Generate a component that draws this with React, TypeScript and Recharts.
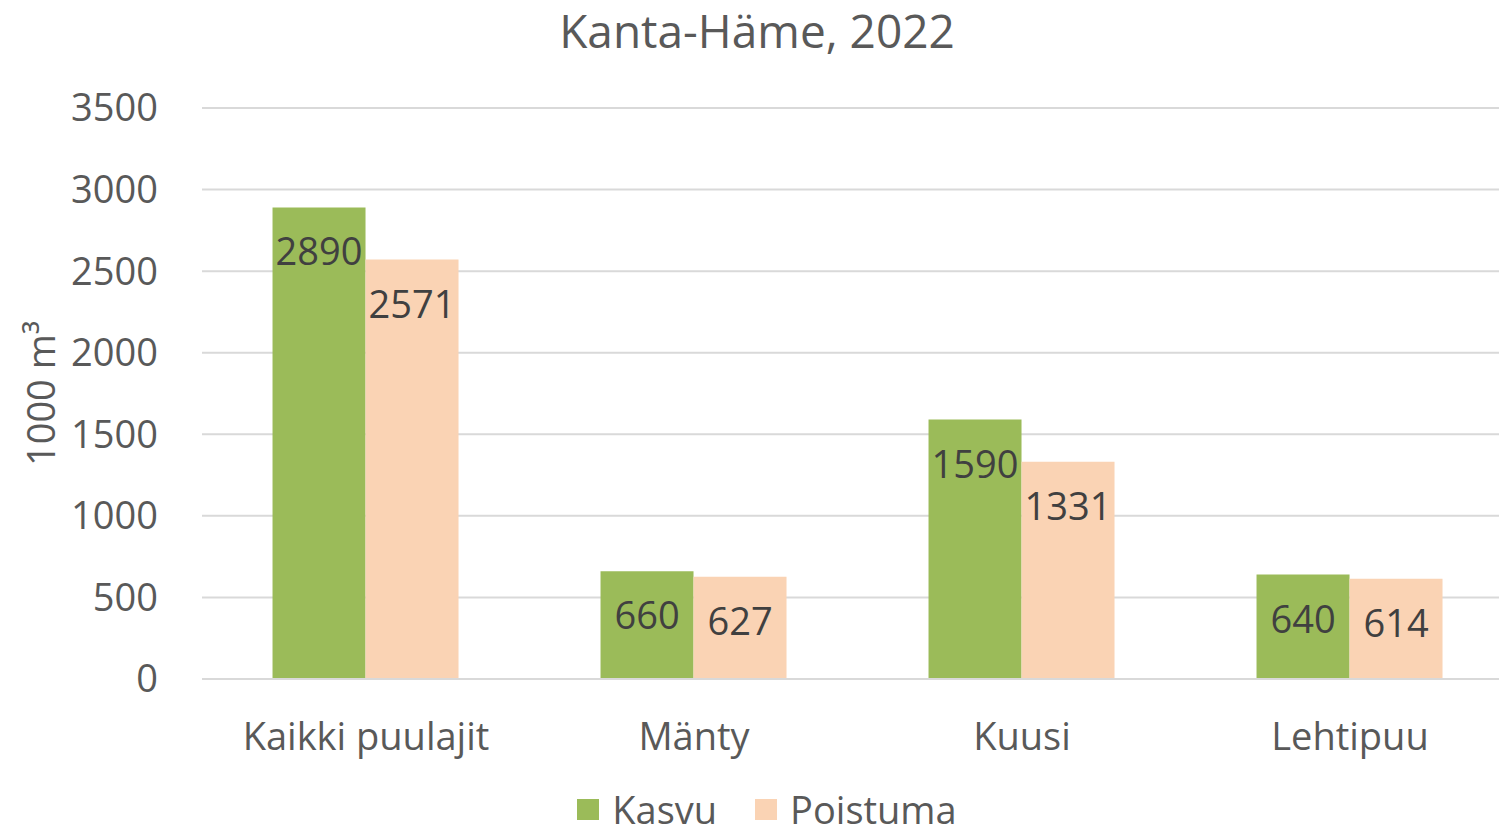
import React from 'react';
import {
  BarChart,
  Bar,
  XAxis,
  YAxis,
  CartesianGrid,
  Legend,
  LabelList,
  Label,
} from 'recharts';

const CATEGORIES = ['Kaikki puulajit', 'Mänty', 'Kuusi', 'Lehtipuu'];
const KASVU = [2890, 660, 1590, 640];
const POISTUMA = [2571, 627, 1331, 614];
const Y_TICKS = [0, 500, 1000, 1500, 2000, 2500, 3000, 3500];

const GREEN = '#9BBB59';
const PEACH = '#FAD3B4';
const TEXT = '#595959';
const FONT = "'Open Sans', sans-serif";

const data = CATEGORIES.map((name, i) => ({
  name,
  Kasvu: KASVU[i],
  Poistuma: POISTUMA[i],
}));

const YLabel = (props: any) => {
  const vb = props.viewBox || {};
  const cx = 40;
  const cy = (vb.y ?? 0) + (vb.height ?? 0) / 2;
  return (
    <text
      x={cx}
      y={cy}
      transform={`rotate(-90, ${cx}, ${cy})`}
      textAnchor="middle"
      dominantBaseline="central"
      fill={TEXT}
      fontSize={38}
      fontFamily={FONT}
    >
      1000 m³
    </text>
  );
};

// legend drawn by hand so the squares sit where the reference has them
const LegendBox = (props: any) => {
  const items = props.payload || [];
  return (
    <div style={{ display: 'flex', justifyContent: 'center', alignItems: 'center', height: 44 }}>
      {items.map((it: any, i: number) => (
        <div
          key={it.value}
          style={{ display: 'flex', alignItems: 'center', marginLeft: i === 0 ? 0 : 38 }}
        >
          <div style={{ width: 22, height: 21, background: it.color, marginRight: 13 }} />
          <span style={{ color: TEXT, fontSize: 38, lineHeight: '44px' }}>{it.value}</span>
        </div>
      ))}
    </div>
  );
};

export default function App() {
  return (
    <div
      style={{
        position: 'absolute',
        left: 0,
        top: 0,
        width: 1499,
        height: 835,
        overflow: 'hidden',
        background: '#fff',
        fontFamily: FONT,
      }}
    >
      <div
        style={{
          position: 'absolute',
          top: 0,
          left: 0,
          width: 1514,
          textAlign: 'center',
          fontSize: 46,
          color: TEXT,
          lineHeight: '60px',
        }}
      >
        Kanta-Häme, 2022
      </div>
      <BarChart
        width={1514}
        height={835}
        data={data}
        margin={{ top: 108, right: 0, left: 0, bottom: 0 }}
        barCategoryGap="21.5%"
        barGap={0}
      >
        <CartesianGrid vertical={false} stroke="#D9D9D9" strokeWidth={2} />
        <XAxis
          dataKey="name"
          height={112}
          tickSize={0}
          tickMargin={44}
          axisLine={{ stroke: '#D9D9D9', strokeWidth: 2 }}
          tick={{ fill: TEXT, fontSize: 38, fontFamily: FONT }}
        />
        <YAxis
          width={202}
          domain={[0, 3500]}
          ticks={Y_TICKS}
          tickSize={0}
          tickMargin={44}
          axisLine={false}
          tick={{ fill: TEXT, fontSize: 38, fontFamily: FONT }}
        >
          <Label content={YLabel} />
        </YAxis>
        <Legend
          verticalAlign="bottom"
          content={LegendBox}
          wrapperStyle={{ height: 44, bottom: 4, left: 10, fontFamily: FONT }}
        />
        <Bar dataKey="Kasvu" fill={GREEN} isAnimationActive={false}>
          <LabelList
            dataKey="Kasvu"
            position="insideTop"
            offset={31}
            fill="#404040"
            fontSize={38}
            fontFamily={FONT}
          />
        </Bar>
        <Bar dataKey="Poistuma" fill={PEACH} isAnimationActive={false}>
          <LabelList
            dataKey="Poistuma"
            position="insideTop"
            offset={31}
            fill="#404040"
            fontSize={38}
            fontFamily={FONT}
          />
        </Bar>
      </BarChart>
    </div>
  );
}
